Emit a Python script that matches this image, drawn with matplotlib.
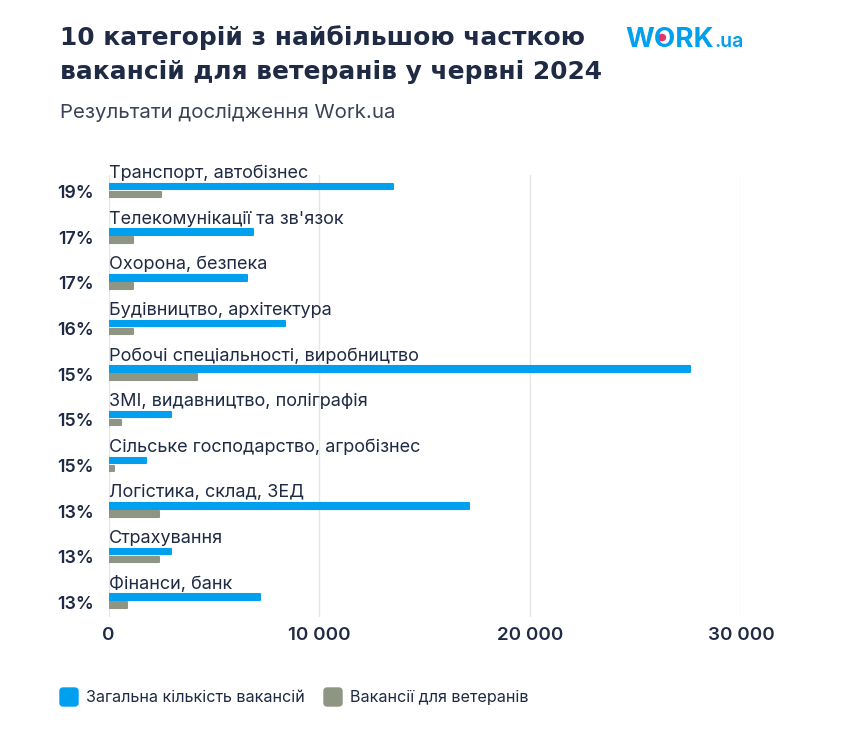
import matplotlib.pyplot as plt
import matplotlib.transforms as mtransforms
from matplotlib.patches import FancyBboxPatch

plt.rcParams['font.family'] = ['Inter', 'DejaVu Sans']

categories = ['Транспорт, автобізнес', "Телекомунікації та зв'язок", 'Охорона, безпека',
              'Будівництво, архітектура', 'Робочі спеціальності, виробництво',
              'ЗМІ, видавництво, поліграфія', 'Сільське господарство, агробізнес',
              'Логістика, склад, ЗЕД', 'Страхування', 'Фінанси, банк']
shares = ['19%', '17%', '17%', '16%', '15%', '15%', '15%', '13%', '13%', '13%']
total = [13480, 6850, 6560, 8360, 27600, 2960, 1780, 17090, 2960, 7180]
veterans = [2490, 1160, 1160, 1160, 4190, 590, 260, 2390, 2390, 880]
ticks = [0, 10000, 20000, 30000]
tick_labels = ['0', '10 000', '20 000', '30 000']

blue = '#00A0EE'
grey = '#8E9683'
navy = '#1F2A44'

W, H = 841, 742
fig = plt.figure(figsize=(W / 100, H / 100), dpi=100)


def fx(x):
    return x / W


def fy(y):
    return 1 - y / H


# axes: x=0 at 108.5px, 30000 at 741px; rows from 174.5px to 617px
ax = fig.add_axes([fx(108.5), fy(617), fx(741) - fx(108.5), fy(174.5) - fy(617)])
ax.set_xlim(0, 30000)
ax.set_ylim(9.35, -0.35)

rows = list(range(len(categories)))
bh = 0.12
ax.barh([r - 0.085 for r in rows], total, height=bh, color=blue, edgecolor=blue,
        linewidth=1.5, joinstyle='round', zorder=3)
ax.barh([r + 0.09 for r in rows], veterans, height=bh, color=grey, edgecolor=grey,
        linewidth=1.5, joinstyle='round', zorder=3)

for t in ticks:
    ax.axvline(t, color='#E6E6E6', lw=1, zorder=1)

ax.set_xticks(ticks)
ax.set_xticklabels(tick_labels, fontsize=13.5, fontweight='semibold', color=navy)
ax.tick_params(axis='x', length=0, pad=7)
ax.set_yticks([])
for s in ax.spines.values():
    s.set_visible(False)

trans = mtransforms.blended_transform_factory(fig.transFigure, ax.transData)
for r, name, pct in zip(rows, categories, shares):
    ax.text(20, r - 0.27, name, fontsize=13, color=navy, va='baseline', ha='left')
    ax.text(fx(94), r + 0.17, pct, transform=trans, fontsize=12.8, fontweight='semibold',
            color=navy, va='baseline', ha='right')

# title and subtitle
fig.text(fx(60), fy(45), '10 категорій з найбільшою часткою', fontsize=17.9,
         fontweight='bold', color=navy, va='baseline', family=['DejaVu Sans'])
fig.text(fx(60), fy(79), 'вакансій для ветеранів у червні 2024', fontsize=17.9,
         fontweight='bold', color=navy, va='baseline', family=['DejaVu Sans'])
fig.text(fx(60), fy(118), 'Результати дослідження Work.ua', fontsize=14.7,
         color='#3A4255', va='baseline')

# logo
fig.text(fx(625), fy(47), 'WORK', fontsize=20, fontweight='bold', color=blue, va='baseline')
fig.text(fx(714), fy(47), '.ua', fontsize=14, fontweight='semibold', color=blue, va='baseline')
fig.patches.append(plt.Circle((fx(662), fy(37.5)), 3.5 / W, color='#E8336B',
                              transform=fig.transFigure, figure=fig))

# legend
for x0, label, c in [(60, 'Загальна кількість вакансій', blue), (324, 'Вакансії для ветеранів', grey)]:
    fig.patches.append(FancyBboxPatch((fx(x0), fy(706)), 18 / W, 18 / H,
                                      boxstyle='round,pad=0,rounding_size=0.004',
                                      color=c, transform=fig.transFigure, figure=fig))
    fig.text(fx(x0 + 26), fy(702), label, fontsize=11.6, color=navy, va='baseline')

fig.savefig('out.png', dpi=100, facecolor='white')
